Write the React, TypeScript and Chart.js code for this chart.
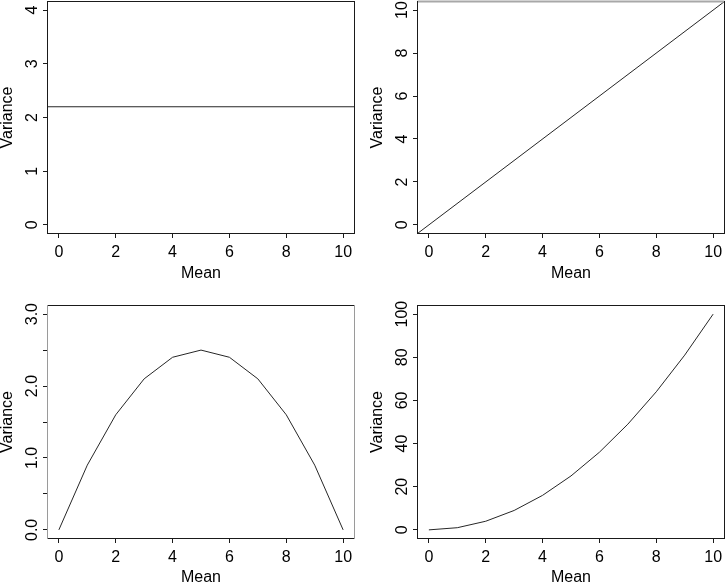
import React, { useEffect, useRef } from "react";
import { Chart, registerables } from "chart.js";

Chart.register(...registerables);

const FONT = '"Liberation Sans", Arial, Helvetica, sans-serif';
const FS = 16;

// Shared x axis (Mean)
const meanTicks = [0, 2, 4, 6, 8, 10];
const meanRange = [-0.4, 10.4];

// Panel 1: constant variance (abline h = 2.2)
const constMean = [-1, 11];
const constVar = [2.2, 2.2];
const p1YTicks = [0, 1, 2, 3, 4];
const p1YLabels = ["0", "1", "2", "3", "4"];
const p1YRange = [-0.16, 4.16];

// Panel 2: variance = mean (abline 0,1)
const poisMean = [-1, 11];
const poisVar = [-1, 11];
const p2YTicks = [0, 2, 4, 6, 8, 10];
const p2YLabels = ["0", "2", "4", "6", "8", "10"];
const p2YRange = [-0.4, 10.4];

// Panel 3: binomial-type variance
const binMean = [0, 1, 2, 3, 4, 5, 6, 7, 8, 9, 10];
const binVar = [0, 0.9, 1.6, 2.1, 2.4, 2.5, 2.4, 2.1, 1.6, 0.9, 0];
const p3YTicks = [0, 0.5, 1, 1.5, 2, 2.5, 3];
const p3YLabels = ["0.0", "", "1.0", "", "2.0", "", "3.0"];
const p3YRange = [-0.12, 3.12];

// Panel 4: variance = mean^2
const gamMean = [0, 1, 2, 3, 4, 5, 6, 7, 8, 9, 10];
const gamVar = [0, 1, 4, 9, 16, 25, 36, 49, 64, 81, 100];
const p4YTicks = [0, 20, 40, 60, 80, 100];
const p4YLabels = ["0", "20", "40", "60", "80", "100"];
const p4YRange = [-4, 104];

const W = 370;

const framePlugin = {
  id: "frame",
  afterDraw(chart: any, _args: any, opts: any) {
    const { ctx, chartArea: a } = chart;
    const y = chart.scales.y;
    ctx.save();
    ctx.font = `${FS}px ${FONT}`;
    ctx.fillStyle = "#000";
    ctx.textAlign = "center";
    ctx.textBaseline = "alphabetic";
    y.ticks.forEach((t: any) => {
      if (!t.label) return;
      const py = y.getPixelForValue(t.value);
      ctx.save();
      ctx.translate(a.left - 16.3 + FS * 0.358, py);
      ctx.rotate(-Math.PI / 2);
      ctx.fillText(String(t.label), 0, 0);
      ctx.restore();
    });
    const sides = (opts && opts.sides) || {};
    const seg = (x1: number, y1: number, x2: number, y2: number, c: string, w: number) => {
      ctx.beginPath();
      ctx.strokeStyle = c;
      ctx.lineWidth = w;
      ctx.moveTo(x1, y1);
      ctx.lineTo(x2, y2);
      ctx.stroke();
    };
    const dark = "#1a1a1a";
    seg(a.left, a.top, a.right, a.top, sides.top || dark, sides.topW || 1);
    seg(a.left, a.bottom, a.right, a.bottom, sides.bottom || dark, 1);
    seg(a.left, a.top - 0.5, a.left, a.bottom + 0.5, sides.left || dark, 1);
    seg(a.right, a.top - 0.5, a.right, a.bottom + 0.5, sides.right || dark, 1);
    ctx.restore();
  },
};

type PanelProps = {
  left: number;
  top: number;
  height: number;
  padTop: number;
  titlePad: number;
  xs: number[];
  ys: number[];
  yTicks: number[];
  yLabels: string[];
  yRange: number[];
  sides?: any;
};

function Panel({ left, top, height, padTop, titlePad, xs, ys, yTicks, yLabels, yRange, sides }: PanelProps) {
  const ref = useRef<HTMLCanvasElement | null>(null);
  useEffect(() => {
    if (!ref.current) return;
    const grid = {
      display: true,
      drawOnChartArea: false,
      drawTicks: true,
      tickLength: 4.5,
      color: "#1a1a1a",
      lineWidth: 1,
    };
    const chart = new Chart(ref.current, {
      type: "line",
      data: {
        datasets: [
          {
            data: xs.map((x, i) => ({ x, y: ys[i] })),
            borderColor: "#262626",
            borderWidth: 1,
            pointRadius: 0,
            tension: 0,
            fill: false,
          },
        ],
      },
      options: {
        responsive: false,
        animation: false,
        devicePixelRatio: 1,
        layout: { padding: { left: 0, top: padTop, right: 15.5, bottom: 0 } },
        plugins: {
          legend: { display: false },
          tooltip: { enabled: false },
          frame: { sides },
        } as any,
        scales: {
          x: {
            type: "linear",
            min: meanRange[0],
            max: meanRange[1],
            afterBuildTicks: (s: any) => {
              s.ticks = meanTicks.map((v) => ({ value: v }));
            },
            afterFit: (s: any) => {
              s.height = 71.5;
            },
            grid,
            border: { display: false },
            ticks: {
              color: "#000",
              font: { family: FONT, size: FS },
              padding: 4.5,
              maxRotation: 0,
              minRotation: 0,
              autoSkip: false,
              callback: (v: any) => String(v),
            },
            title: {
              display: true,
              text: "Mean",
              color: "#000",
              font: { family: FONT, size: FS, lineHeight: 1 },
              padding: { top: 0, bottom: titlePad },
            },
          },
          y: {
            type: "linear",
            min: yRange[0],
            max: yRange[1],
            afterBuildTicks: (s: any) => {
              s.ticks = yTicks.map((v) => ({ value: v }));
            },
            afterFit: (s: any) => {
              s.width = 47.5;
            },
            grid,
            border: { display: false },
            ticks: {
              display: false,
              autoSkip: false,
              callback: (_v: any, i: number) => yLabels[i],
            },
            title: {
              display: true,
              text: "Variance",
              color: "#000",
              font: { family: FONT, size: FS, lineHeight: 1 },
              padding: { top: 0, bottom: 0 },
            },
          },
        },
      } as any,
      plugins: [framePlugin],
    });
    return () => chart.destroy();
  }, []);
  return (
    <canvas
      ref={ref}
      width={W}
      height={height}
      style={{ position: "absolute", left, top, width: W, height, display: "block" }}
    />
  );
}

export default function App() {
  return (
    <div
      style={{
        position: "absolute",
        left: 0,
        top: 0,
        width: 726,
        height: 585,
        overflow: "hidden",
        background: "#fff",
      }}
    >
      <Panel
        left={0}
        top={0}
        height={305}
        padTop={1.5}
        titlePad={23.5}
        xs={constMean}
        ys={constVar}
        yTicks={p1YTicks}
        yLabels={p1YLabels}
        yRange={p1YRange}
      />
      <Panel
        left={370}
        top={0}
        height={305}
        padTop={1.5}
        titlePad={23.5}
        xs={poisMean}
        ys={poisVar}
        yTicks={p2YTicks}
        yLabels={p2YLabels}
        yRange={p2YRange}
        sides={{ top: "#a8a8a8", topW: 2 }}
      />
      <Panel
        left={0}
        top={290}
        height={320}
        padTop={15.5}
        titlePad={24.5}
        xs={binMean}
        ys={binVar}
        yTicks={p3YTicks}
        yLabels={p3YLabels}
        yRange={p3YRange}
        sides={{ left: "#9a9a9a", right: "#9a9a9a" }}
      />
      <Panel
        left={370}
        top={290}
        height={320}
        padTop={15.5}
        titlePad={24.5}
        xs={gamMean}
        ys={gamVar}
        yTicks={p4YTicks}
        yLabels={p4YLabels}
        yRange={p4YRange}
      />
    </div>
  );
}
